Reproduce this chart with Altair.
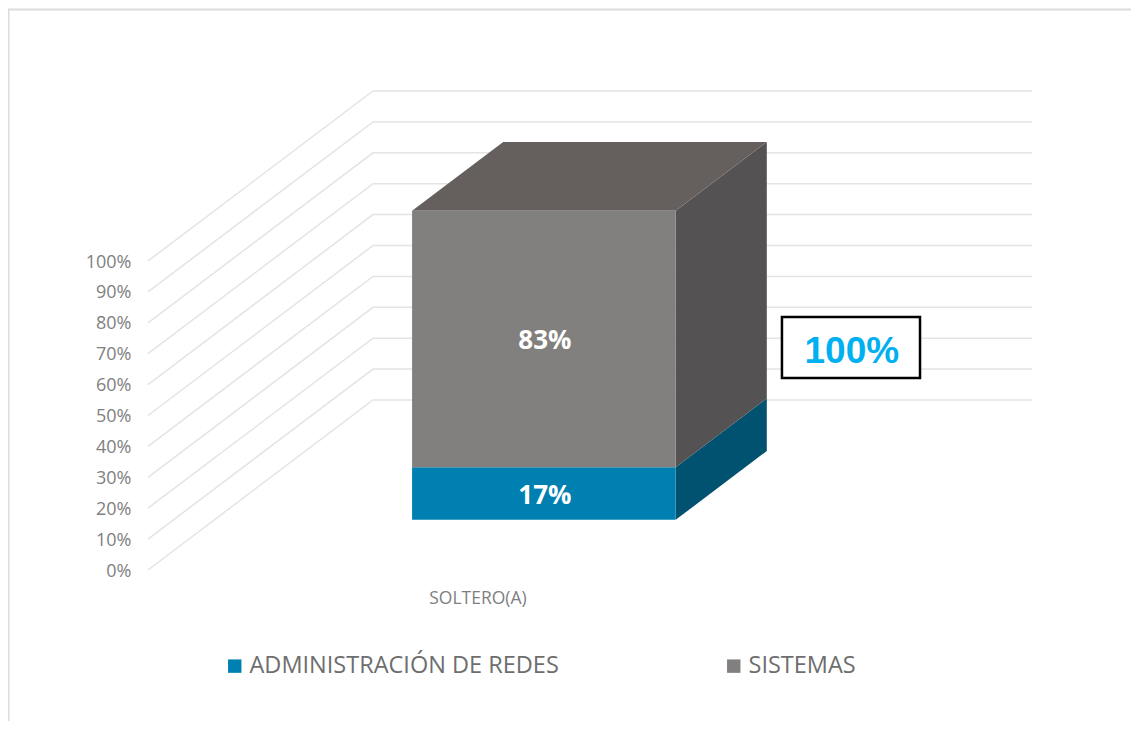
import altair as alt
import pandas as pd

categories = ["SOLTERO(A)"]
series = ["ADMINISTRACIÓN DE REDES", "SISTEMAS"]
values = [17, 83]
front_colors = ["#0080b0", "#82807e"]
side_colors = ["#005270", "#545253"]
top_color = "#65605e"
ticks = list(range(0, 101, 10))
total_label = "100%"

# oblique projection of the 3D chart, in data units
FLOOR_PER_PX = 1 / 659
VALUE_PER_PX = 1 / 3.09
DEPTH_X = 225 * FLOOR_PER_PX
DEPTH_Y = 170 * VALUE_PER_PX
BAR_X = (0.3, 0.7)
BAR_DEPTH = (0.295, 0.7)
X_MAX = 884 * FLOOR_PER_PX
Y_MAX = 480 * VALUE_PER_PX

x_scale = alt.Scale(domain=[0, X_MAX], nice=False, zero=False)
y_scale = alt.Scale(domain=[0, Y_MAX], nice=False, zero=False)

x_axis = alt.Axis(values=[0.5], labelExpr=f"'{categories[0]}'", domain=False, ticks=False,
                  grid=False, labelFontSize=17.5, labelColor="#7f7f7f", labelFont="Open Sans",
                  labelPadding=19, labelAngle=0, title=None)
y_axis = alt.Axis(values=ticks, labelExpr="datum.value + '%'", domain=False,
                  ticks=False, grid=False, labelFontSize=18, labelColor="#7f7f7f",
                  labelFont="Open Sans", labelPadding=17, labelOffset=1, title=None)


def X(field="x"):
    return alt.X(f"{field}:Q", scale=x_scale, axis=x_axis)


def Y(field="y"):
    return alt.Y(f"{field}:Q", scale=y_scale, axis=y_axis)


# gridlines
grid_rows = []
for t in ticks:
    grid_rows += [
        {"tick": t, "x": 0, "y": t},
        {"tick": t, "x": DEPTH_X, "y": t + DEPTH_Y},
        {"tick": t, "x": X_MAX, "y": t + DEPTH_Y},
    ]
grid = (
    alt.Chart(pd.DataFrame(grid_rows))
    .mark_line(color="#e4e4e4", strokeWidth=1.5, interpolate="linear")
    .encode(x=X(), y=Y(), detail="tick:N", order="x:Q")
)

# stacked faces
d0, d1 = BAR_DEPTH
x0, x1 = BAR_X
fx0, fx1 = x0 + d0 * DEPTH_X, x1 + d0 * DEPTH_X
bx0, bx1 = x0 + d1 * DEPTH_X, x1 + d1 * DEPTH_X
y_front = d0 * DEPTH_Y
y_back = d1 * DEPTH_Y

front_rows, side_rows, label_rows = [], [], []
base = 0
for name, v, c in zip(series, values, side_colors):
    front_rows.append({"serie": name, "x": fx0, "x2": fx1, "y": base + y_front, "y2": base + v + y_front})
    side_rows += [
        {"serie": name, "c": c, "x": fx1, "y": base + y_front, "y2": base + v + y_front},
        {"serie": name, "c": c, "x": bx1, "y": base + y_back, "y2": base + v + y_back},
    ]
    label_rows.append({"x": (fx0 + fx1) / 2, "y": base + v / 2 + y_front, "t": f"{v}%"})
    base += v

sides = [
    alt.Chart(pd.DataFrame([r for r in side_rows if r["serie"] == name]))
    .mark_area(orient="vertical", color=c, opacity=1)
    .encode(x=X(), y=Y(), y2=alt.Y2("y2:Q"))
    for name, c in zip(series, side_colors)
]

top_rows = [
    {"y": base + y_front, "x": fx0, "x2": fx1},
    {"y": base + y_back, "x": bx0, "x2": bx1},
]
top = (
    alt.Chart(pd.DataFrame(top_rows))
    .mark_area(orient="horizontal", color=top_color, opacity=1)
    .encode(y=Y(), x=X(), x2=alt.X2("x2:Q"))
)

front = (
    alt.Chart(pd.DataFrame(front_rows))
    .mark_rect()
    .encode(
        x=X(),
        x2=alt.X2("x2:Q"),
        y=Y(),
        y2=alt.Y2("y2:Q"),
        color=alt.Color(
            "serie:N",
            scale=alt.Scale(domain=series, range=front_colors),
            legend=alt.Legend(
                title=None, orient="none", legendX=75, legendY=564, columns=2, columnPadding=163,
                symbolType="square", symbolSize=180, symbolStrokeWidth=0, symbolOpacity=1,
                labelFont="Open Sans", labelFontSize=23.5, labelColor="#6e6e6e", labelOffset=3,
                labelLimit=400, rowPadding=0,
            ),
        ),
    )
)

labels = (
    alt.Chart(pd.DataFrame(label_rows))
    .mark_text(color="white", fontWeight="bold", fontSize=26, font="Open Sans", baseline="middle",
               align="center", dy=2, dx=1)
    .encode(x=X(), y=Y(), text="t:N")
)

# annotation box
box_df = pd.DataFrame([{"x": 0.962, "x2": 1.1715, "y": 62.1, "y2": 81.9, "tx": 1.068, "ty": 70.6, "t": total_label}])
box = (
    alt.Chart(box_df)
    .mark_rect(fill="white", stroke="black", strokeWidth=2.5)
    .encode(x=X(), x2=alt.X2("x2:Q"), y=Y(), y2=alt.Y2("y2:Q"))
)
box_text = (
    alt.Chart(box_df)
    .mark_text(color="#00b0f0", fontWeight="bold", fontSize=37, font="Liberation Sans", baseline="middle", align="center")
    .encode(x=X("tx"), y=Y("ty"), text="t:N")
)

# picture frame
frame_left = (
    alt.Chart(pd.DataFrame([{"x": -0.2117, "y": -49, "y2": 181.4}]))
    .mark_rule(color="#dcdcdc", strokeWidth=2)
    .encode(x=X(), y=Y(), y2=alt.Y2("y2:Q"))
)
frame_top = (
    alt.Chart(pd.DataFrame([{"x": -0.2124, "x2": 1.504, "y": 181.4}]))
    .mark_rule(color="#dcdcdc", strokeWidth=2)
    .encode(x=X(), x2=alt.X2("x2:Q"), y=Y())
)

chart = (
    alt.layer(frame_left, frame_top, grid, *sides, top, front, labels, box, box_text)
    .properties(
        width=884,
        height=480,
        padding={"left": 140, "top": 82, "right": 99, "bottom": 151},
        autosize=alt.AutoSizeParams(type="none"),
        background="white",
    )
    .configure_view(stroke=None)
)

chart.save("out.html", embed_options={"renderer": "svg", "actions": False})
